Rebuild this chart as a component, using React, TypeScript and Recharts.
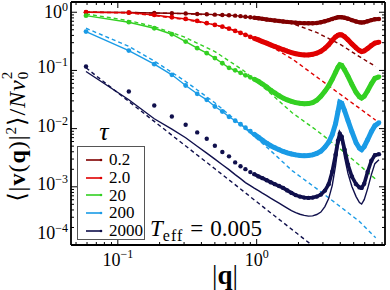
import { LineChart, Line, XAxis, YAxis } from "recharts";

// |q| positions of the measured points (sparse at low q, dense band above q ~ 1)
const qDots = [
  0.059, 0.12, 0.183, 0.245, 0.308, 0.373, 0.437, 0.5, 0.566, 0.632, 0.7, 0.765, 0.83, 0.9,
  0.96, 1.03, 1.1, 1.18, 1.26, 1.35, 1.45, 1.55, 1.66, 1.78, 1.91, 2.05, 2.2, 2.36, 2.53, 2.71,
  2.9, 3.1, 3.3, 3.5, 3.7, 3.85, 3.97, 4.1, 4.3, 4.55, 4.85, 5.2, 5.5, 5.7, 5.95, 6.3, 6.7, 7.1, 7.6,
];

const tau02 = [
  1.0, 0.992, 0.973, 0.961, 0.95, 0.935, 0.924, 0.91, 0.899, 0.888, 0.874, 0.857, 0.837, 0.821,
  0.805, 0.789, 0.77, 0.752, 0.738, 0.723, 0.709, 0.695, 0.682, 0.671, 0.663, 0.655, 0.65, 0.648,
  0.648, 0.655, 0.674, 0.701, 0.732, 0.767, 0.798, 0.818, 0.824, 0.821, 0.805, 0.774, 0.732, 0.693,
  0.671, 0.666, 0.674, 0.701, 0.732, 0.756, 0.767,
];
const tau2 = [
  1.0, 0.984, 0.899, 0.821, 0.767, 0.709, 0.648, 0.606, 0.566, 0.521, 0.478, 0.441, 0.408, 0.377,
  0.355, 0.335, 0.313, 0.294, 0.275, 0.258, 0.242, 0.227, 0.214, 0.203, 0.194, 0.188, 0.185, 0.185,
  0.189, 0.198, 0.213, 0.239, 0.275, 0.328, 0.377, 0.403, 0.411, 0.408, 0.38, 0.335, 0.286, 0.244,
  0.219, 0.211, 0.217, 0.239, 0.269, 0.294, 0.306,
];
const tau20 = [
  0.874, 0.674, 0.531, 0.419, 0.313, 0.241, 0.198, 0.163, 0.133, 0.111, 0.1004, 0.0909, 0.0824, 0.0761,
  0.0709, 0.0649, 0.0584, 0.0519, 0.0459, 0.041, 0.0367, 0.0335, 0.0311, 0.0293, 0.028, 0.0272, 0.0267,
  0.0269, 0.028, 0.0307, 0.0359, 0.0438, 0.0544, 0.0704, 0.0928, 0.113, 0.125, 0.122, 0.102, 0.0792,
  0.0578, 0.0421, 0.0353, 0.0335, 0.0359, 0.0447, 0.0589, 0.0732, 0.0777,
];
const tau200 = [
  0.465, 0.2195, 0.128, 0.0841, 0.0551, 0.0397, 0.0313, 0.024, 0.0197, 0.016, 0.01366, 0.0119, 0.01036,
  0.00902, 0.00802, 0.00712, 0.00633, 0.00562, 0.00509, 0.0047, 0.00435, 0.00405, 0.00383, 0.00367,
  0.00354, 0.00346, 0.00343, 0.00346, 0.00354, 0.00374, 0.0041, 0.0048, 0.00584, 0.00786, 0.01213,
  0.0195, 0.0284, 0.0273, 0.0203, 0.01366, 0.00885, 0.00573, 0.00461, 0.00435, 0.00489, 0.00645,
  0.00885, 0.01121, 0.01263,
];
const tau2000 = [
  0.1167, 0.0434, 0.025, 0.0162, 0.01167, 0.00861, 0.00671, 0.00509, 0.00397, 0.00334, 0.00263, 0.00226,
  0.00201, 0.00179, 0.00165, 0.00151, 0.00141, 0.0013, 0.0012, 0.00111, 0.00103, 0.000957, 0.000868,
  0.000786, 0.000721, 0.000679, 0.000653, 0.000645, 0.000653, 0.000679, 0.000735, 0.000861, 0.00111,
  0.00182, 0.00357, 0.0062, 0.00818, 0.00726, 0.00435, 0.0024, 0.0015, 0.00111, 0.000977, 0.000957,
  0.00113, 0.00182, 0.00281, 0.0035, 0.00364,
];
// theory curve for tau = 2000 sits visibly below the points
const tau2000Theory = [
  0.0958, 0.0313, 0.01478, 0.00977, 0.00698, 0.00499, 0.00379, 0.00299, 0.0024, 0.00197, 0.00162, 0.00138,
  0.00118, 0.00105, 0.00095, 0.000861, 0.00078, 0.000707, 0.00064, 0.00058, 0.000525, 0.000476, 0.000431,
  0.000391, 0.000361, 0.000338, 0.000323, 0.000314, 0.000317, 0.000334, 0.000368, 0.000457, 0.000627,
  0.00105, 0.00231, 0.0047, 0.00671, 0.00596, 0.00317, 0.00168, 0.00101, 0.000679, 0.000536, 0.000505,
  0.000603, 0.000931, 0.00162, 0.0025, 0.00293,
];

// dashed continuum curves
const qDash = [0.059, 0.12, 0.18, 0.3, 0.5, 0.8, 1.2, 1.8, 2.7, 4, 5.5, 7.2];
const dash02 = [1.0, 0.992, 0.973, 0.943, 0.899, 0.837, 0.752, 0.642, 0.45, 0.28, 0.1725, 0.1167];
const dash2 = [1.0, 0.973, 0.881, 0.752, 0.606, 0.441, 0.28, 0.158, 0.0777, 0.0389, 0.0224, 0.01393];
const dash20 = [0.935, 0.718, 0.571, 0.377, 0.211, 0.1004, 0.0447, 0.01874, 0.00935, 0.00447, 0.00235, 0.00135];
const dash200 = [0.531, 0.259, 0.149, 0.0676, 0.0278, 0.01078, 0.00465, 0.0019, 0.000931, 0.000457, 0.000253, 0.000133];
const dash2000 = [0.111, 0.0293, 0.01372, 0.00529, 0.00204, 0.000844, 0.000392, 0.000184, 0.0000861, null, null, null];

const tauLabels = ["0.2", "2.0", "20", "200", "2000"];
const colors = ["#800000", "#e00000", "#33d022", "#1a9be6", "#10104c"];

const xTicks = [0.05, 0.06, 0.07, 0.08, 0.09, 0.1, 0.2, 0.3, 0.4, 0.5, 0.6, 0.7, 0.8, 0.9, 1, 2, 3, 4, 5, 6, 7, 8];
const yTicks = [
  1e-4, 2e-4, 3e-4, 4e-4, 5e-4, 6e-4, 7e-4, 8e-4, 9e-4,
  1e-3, 2e-3, 3e-3, 4e-3, 5e-3, 6e-3, 7e-3, 8e-3, 9e-3,
  1e-2, 2e-2, 3e-2, 4e-2, 5e-2, 6e-2, 7e-2, 8e-2, 9e-2,
  0.1, 0.2, 0.3, 0.4, 0.5, 0.6, 0.7, 0.8, 0.9, 1,
];

const SERIF = '"Liberation Serif", "DejaVu Serif", serif';

const series = [
  { dots: tau02, theory: tau02, dash: dash02, band: 4, r: 2.2 },
  { dots: tau2, theory: tau2, dash: dash2, band: 5, r: 2.4 },
  { dots: tau20, theory: tau20, dash: dash20, band: 5, r: 2.4 },
  { dots: tau200, theory: tau200, dash: dash200, band: 5, r: 2.4 },
  { dots: tau2000, theory: tau2000Theory, dash: dash2000, band: 3.6, r: 2.2 },
].map((s, i) => ({
  ...s,
  color: colors[i],
  label: tauLabels[i],
  rows: qDots.map((q, j) => ({ q, v: s.dots[j], band: q > 0.93 ? s.dots[j] : null })),
  theoryRows: qDots.map((q, j) => ({ q, v: s.theory[j] })),
  dashRows: qDash.map((q, j) => ({ q, v: s.dash[j] })),
}));

const isMajor = (v: number) => Math.abs(Math.log10(v) - Math.round(Math.log10(v))) < 1e-6;
const expOf = (v: number) => Math.round(Math.log10(v));
const expText = (v: number) => {
  const e = expOf(v);
  return e < 0 ? `\u2212${-e}` : `${e}`;
};

function BottomTick(props: any) {
  const { x, y, payload } = props;
  const major = isMajor(payload.value);
  return (
    <g>
      <line x1={x} x2={x} y1={y} y2={y - (major ? 6 : 3)} stroke="#000" strokeWidth={1} />
      {major && (
        <text x={x} y={y + 21} textAnchor="middle" fontSize={18} fontFamily={SERIF} fill="#000">
          10
          <tspan dy={-8} fontSize={12}>{expText(payload.value)}</tspan>
        </text>
      )}
    </g>
  );
}

function TopTick(props: any) {
  const { x, y, payload } = props;
  const major = isMajor(payload.value);
  return <line x1={x} x2={x} y1={y} y2={y + (major ? 6 : 3)} stroke="#000" strokeWidth={1} />;
}

function LeftTick(props: any) {
  const { x, y, payload } = props;
  const major = isMajor(payload.value);
  const e = expOf(payload.value);
  // the lowest label sits a little above the corner, the top one is kept inside the page
  const shift = e === -4 ? -9 : e === 0 ? 3 : 0;
  return (
    <g>
      <line x1={x} x2={x + (major ? 6 : 3)} y1={y} y2={y} stroke="#000" strokeWidth={1} />
      {major && (
        <text x={x - 3} y={y + 3 + shift} textAnchor="end" fontSize={18} fontFamily={SERIF} fill="#000">
          10
          <tspan dy={-7} fontSize={12}>{expText(payload.value)}</tspan>
        </text>
      )}
    </g>
  );
}

function RightTick(props: any) {
  const { x, y, payload } = props;
  const major = isMajor(payload.value);
  return <line x1={x} x2={x - (major ? 6 : 3)} y1={y} y2={y} stroke="#000" strokeWidth={1} />;
}

const axisLine = { stroke: "#000", strokeWidth: 1.8 };

export default function App() {
  return (
    <div style={{ position: "absolute", left: 0, top: 0, width: 390, height: 290, background: "#fff", fontFamily: SERIF }}>
      <LineChart width={390} height={290} margin={{ top: 1, right: 4, bottom: 25, left: 11 }}>
        <XAxis
          xAxisId="b"
          dataKey="q"
          type="number"
          scale="log"
          domain={[0.046, 8.4]}
          allowDataOverflow
          ticks={xTicks}
          interval={0}
          height={20}
          tickSize={0}
          tickMargin={0}
          tickLine={false}
          axisLine={axisLine}
          tick={(p: any) => <BottomTick {...p} />}
        />
        <XAxis
          xAxisId="t"
          orientation="top"
          dataKey="q"
          type="number"
          scale="log"
          domain={[0.046, 8.4]}
          allowDataOverflow
          ticks={xTicks}
          interval={0}
          height={1}
          tickSize={0}
          tickMargin={0}
          tickLine={false}
          axisLine={axisLine}
          tick={(p: any) => <TopTick {...p} />}
        />
        <YAxis
          yAxisId="l"
          type="number"
          scale="log"
          domain={[1e-4, 1.5]}
          allowDataOverflow
          ticks={yTicks}
          interval={0}
          width={60}
          tickSize={0}
          tickMargin={0}
          tickLine={false}
          axisLine={axisLine}
          tick={(p: any) => <LeftTick {...p} />}
        />
        <YAxis
          yAxisId="r"
          orientation="right"
          type="number"
          scale="log"
          domain={[1e-4, 1.5]}
          allowDataOverflow
          ticks={yTicks}
          interval={0}
          width={1}
          tickSize={0}
          tickMargin={0}
          tickLine={false}
          axisLine={axisLine}
          tick={(p: any) => <RightTick {...p} />}
        />
        {series.flatMap((s, i) => [
          <Line
            key={`th-${i}`}
            xAxisId="b"
            yAxisId="l"
            data={s.theoryRows}
            dataKey="v"
            stroke={s.color}
            strokeWidth={1.4}
            dot={false}
            isAnimationActive={false}
          />,
          <Line
            key={`band-${i}`}
            xAxisId="b"
            yAxisId="l"
            data={s.rows}
            dataKey="band"
            stroke={s.color}
            strokeWidth={s.band}
            dot={false}
            isAnimationActive={false}
          />,
          <Line
            key={`pts-${i}`}
            xAxisId="b"
            yAxisId="l"
            data={s.rows}
            dataKey="v"
            stroke="none"
            strokeWidth={0}
            dot={{ r: s.r, fill: s.color, stroke: s.color, strokeWidth: 0 }}
            isAnimationActive={false}
          />,
          <Line
            key={`dash-${i}`}
            xAxisId="b"
            yAxisId="l"
            data={s.dashRows}
            dataKey="v"
            stroke={s.color}
            strokeWidth={1.4}
            strokeDasharray="4 3"
            dot={false}
            isAnimationActive={false}
          />,
        ])}
      </LineChart>

      {/* y axis label */}
      <div
        style={{
          position: "absolute",
          left: 16,
          top: 136,
          transform: "translate(-50%, -50%) rotate(-90deg)",
          whiteSpace: "nowrap",
          fontSize: 24,
          letterSpacing: 1,
          lineHeight: 1,
        }}
      >
        {"\u27e8|"}
        <b>v</b>(<b>q</b>)|<sup style={{ fontSize: 15 }}>2</sup>
        {"\u27e9/"}
        <i>N</i>
        <i>v</i>
        <span style={{ position: "relative", display: "inline-block", width: 9 }}>
          {"\u00a0"}
          <span style={{ position: "absolute", left: 0, top: -5, fontSize: 15 }}>2</span>
          <span style={{ position: "absolute", left: 0, top: 11, fontSize: 15 }}>0</span>
        </span>
      </div>

      {/* x axis label */}
      <div style={{ position: "absolute", left: 225, top: 275, transform: "translate(-50%, -50%)", fontSize: 27, lineHeight: 1 }}>
        |<b>q</b>|
      </div>

      {/* legend */}
      <div style={{ position: "absolute", left: 104, top: 132, transform: "translate(-50%, -50%)", fontSize: 26, fontStyle: "italic", lineHeight: 1 }}>
        τ
      </div>
      <div
        style={{
          position: "absolute",
          left: 77,
          top: 146,
          width: 68,
          height: 94,
          border: "1px solid #555",
          background: "#fff",
          boxSizing: "border-box",
        }}
      >
        {series.map((s, i) => (
          <div
            key={s.label}
            style={{ position: "absolute", left: 0, top: 4 + i * 17.7, height: 17.7, display: "flex", alignItems: "center" }}
          >
            <svg width={31} height={10} style={{ display: "block" }}>
              <line x1={8} x2={24} y1={5} y2={5} stroke={s.color} strokeWidth={1.6} />
              <circle cx={23} cy={5} r={1.3} fill={s.color} />
            </svg>
            <span style={{ fontSize: 17, lineHeight: 1, color: "#000" }}>{s.label}</span>
          </div>
        ))}
      </div>

      {/* annotation */}
      <div style={{ position: "absolute", left: 150, top: 228, transform: "translateY(-50%)", fontSize: 23, lineHeight: 1, whiteSpace: "nowrap" }}>
        <i>T</i>
        <span style={{ fontSize: 16, letterSpacing: 1, position: "relative", top: 5 }}>eff</span>
        <span style={{ margin: "0 7px" }}>=</span>0.005
      </div>
    </div>
  );
}
